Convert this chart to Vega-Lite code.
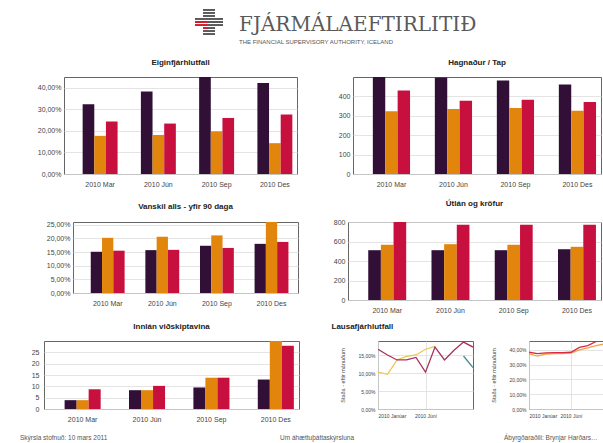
{
  "$schema": "https://vega.github.io/schema/vega-lite/v6.json",
  "padding": 0,
  "spacing": 0,
  "datasets": {
    "merki": [
      {"row": 0, "col": 2, "tone": "grár"}, {"row": 0, "col": 3, "tone": "grár"}, {"row": 0, "col": 4, "tone": "grár"},
      {"row": 1, "col": 2, "tone": "grár"}, {"row": 1, "col": 3, "tone": "grár"}, {"row": 1, "col": 4, "tone": "grár"},
      {"row": 2, "col": 2, "tone": "grár"}, {"row": 2, "col": 3, "tone": "grár"}, {"row": 2, "col": 4, "tone": "grár"},
      {"row": 3, "col": 0, "tone": "grár"}, {"row": 3, "col": 1, "tone": "grár"}, {"row": 3, "col": 2, "tone": "grár"}, {"row": 3, "col": 3, "tone": "grár"}, {"row": 3, "col": 4, "tone": "grár"}, {"row": 3, "col": 5, "tone": "grár"}, {"row": 3, "col": 6, "tone": "grár"},
      {"row": 4, "col": 0, "tone": "rauður"}, {"row": 4, "col": 1, "tone": "rauður"}, {"row": 4, "col": 2, "tone": "rauður"}, {"row": 4, "col": 3, "tone": "grár"}, {"row": 4, "col": 4, "tone": "grár"}, {"row": 4, "col": 5, "tone": "grár"}, {"row": 4, "col": 6, "tone": "grár"},
      {"row": 5, "col": 0, "tone": "rauður"}, {"row": 5, "col": 1, "tone": "rauður"}, {"row": 5, "col": 2, "tone": "rauður"}, {"row": 5, "col": 3, "tone": "grár"}, {"row": 5, "col": 4, "tone": "grár"}, {"row": 5, "col": 5, "tone": "grár"}, {"row": 5, "col": 6, "tone": "grár"},
      {"row": 6, "col": 2, "tone": "rauður"}, {"row": 6, "col": 3, "tone": "grár"}, {"row": 6, "col": 4, "tone": "grár"},
      {"row": 7, "col": 2, "tone": "grár"}, {"row": 7, "col": 3, "tone": "grár"}, {"row": 7, "col": 4, "tone": "grár"},
      {"row": 8, "col": 2, "tone": "grár"}, {"row": 8, "col": 3, "tone": "grár"}, {"row": 8, "col": 4, "tone": "grár"}
    ],
    "stolpar": [
      {"panel": "E", "period": "2010 Mar", "series": "Banki A", "value": 0.324},
      {"panel": "E", "period": "2010 Mar", "series": "Banki B", "value": 0.177},
      {"panel": "E", "period": "2010 Mar", "series": "Banki C", "value": 0.243},
      {"panel": "E", "period": "2010 Jún", "series": "Banki A", "value": 0.383},
      {"panel": "E", "period": "2010 Jún", "series": "Banki B", "value": 0.181},
      {"panel": "E", "period": "2010 Jún", "series": "Banki C", "value": 0.234},
      {"panel": "E", "period": "2010 Sep", "series": "Banki A", "value": 0.47},
      {"panel": "E", "period": "2010 Sep", "series": "Banki B", "value": 0.198},
      {"panel": "E", "period": "2010 Sep", "series": "Banki C", "value": 0.26},
      {"panel": "E", "period": "2010 Des", "series": "Banki A", "value": 0.422},
      {"panel": "E", "period": "2010 Des", "series": "Banki B", "value": 0.143},
      {"panel": "E", "period": "2010 Des", "series": "Banki C", "value": 0.276},
      {"panel": "H", "period": "2010 Mar", "series": "Banki A", "value": 520},
      {"panel": "H", "period": "2010 Mar", "series": "Banki B", "value": 323},
      {"panel": "H", "period": "2010 Mar", "series": "Banki C", "value": 431},
      {"panel": "H", "period": "2010 Jún", "series": "Banki A", "value": 497},
      {"panel": "H", "period": "2010 Jún", "series": "Banki B", "value": 335},
      {"panel": "H", "period": "2010 Jún", "series": "Banki C", "value": 378},
      {"panel": "H", "period": "2010 Sep", "series": "Banki A", "value": 482},
      {"panel": "H", "period": "2010 Sep", "series": "Banki B", "value": 340},
      {"panel": "H", "period": "2010 Sep", "series": "Banki C", "value": 383},
      {"panel": "H", "period": "2010 Des", "series": "Banki A", "value": 461},
      {"panel": "H", "period": "2010 Des", "series": "Banki B", "value": 326},
      {"panel": "H", "period": "2010 Des", "series": "Banki C", "value": 371},
      {"panel": "V", "period": "2010 Mar", "series": "Banki A", "value": 0.151},
      {"panel": "V", "period": "2010 Mar", "series": "Banki B", "value": 0.202},
      {"panel": "V", "period": "2010 Mar", "series": "Banki C", "value": 0.155},
      {"panel": "V", "period": "2010 Jún", "series": "Banki A", "value": 0.157},
      {"panel": "V", "period": "2010 Jún", "series": "Banki B", "value": 0.206},
      {"panel": "V", "period": "2010 Jún", "series": "Banki C", "value": 0.158},
      {"panel": "V", "period": "2010 Sep", "series": "Banki A", "value": 0.173},
      {"panel": "V", "period": "2010 Sep", "series": "Banki B", "value": 0.211},
      {"panel": "V", "period": "2010 Sep", "series": "Banki C", "value": 0.165},
      {"panel": "V", "period": "2010 Des", "series": "Banki A", "value": 0.18},
      {"panel": "V", "period": "2010 Des", "series": "Banki B", "value": 0.27},
      {"panel": "V", "period": "2010 Des", "series": "Banki C", "value": 0.187},
      {"panel": "U", "period": "2010 Mar", "series": "Banki A", "value": 514},
      {"panel": "U", "period": "2010 Mar", "series": "Banki B", "value": 570},
      {"panel": "U", "period": "2010 Mar", "series": "Banki C", "value": 820},
      {"panel": "U", "period": "2010 Jún", "series": "Banki A", "value": 514},
      {"panel": "U", "period": "2010 Jún", "series": "Banki B", "value": 576},
      {"panel": "U", "period": "2010 Jún", "series": "Banki C", "value": 777},
      {"panel": "U", "period": "2010 Sep", "series": "Banki A", "value": 514},
      {"panel": "U", "period": "2010 Sep", "series": "Banki B", "value": 570},
      {"panel": "U", "period": "2010 Sep", "series": "Banki C", "value": 777},
      {"panel": "U", "period": "2010 Des", "series": "Banki A", "value": 524},
      {"panel": "U", "period": "2010 Des", "series": "Banki B", "value": 549},
      {"panel": "U", "period": "2010 Des", "series": "Banki C", "value": 777},
      {"panel": "I", "period": "2010 Mar", "series": "Banki A", "value": 3.9},
      {"panel": "I", "period": "2010 Mar", "series": "Banki B", "value": 3.9},
      {"panel": "I", "period": "2010 Mar", "series": "Banki C", "value": 8.7},
      {"panel": "I", "period": "2010 Jún", "series": "Banki A", "value": 8.3},
      {"panel": "I", "period": "2010 Jún", "series": "Banki B", "value": 8.3},
      {"panel": "I", "period": "2010 Jún", "series": "Banki C", "value": 10.2},
      {"panel": "I", "period": "2010 Sep", "series": "Banki A", "value": 9.5},
      {"panel": "I", "period": "2010 Sep", "series": "Banki B", "value": 13.8},
      {"panel": "I", "period": "2010 Sep", "series": "Banki C", "value": 13.8},
      {"panel": "I", "period": "2010 Des", "series": "Banki A", "value": 13.0},
      {"panel": "I", "period": "2010 Des", "series": "Banki B", "value": 31.0},
      {"panel": "I", "period": "2010 Des", "series": "Banki C", "value": 27.9}
    ],
    "linur": [
      {"chart": 1, "month": "2010 Janúar", "series": "Gult", "value": 0.103},
      {"chart": 1, "month": "2010 Febrúar", "series": "Gult", "value": 0.097},
      {"chart": 1, "month": "2010 Mars", "series": "Gult", "value": 0.137},
      {"chart": 1, "month": "2010 Apríl", "series": "Gult", "value": 0.147},
      {"chart": 1, "month": "2010 Maí", "series": "Gult", "value": 0.151},
      {"chart": 1, "month": "2010 Júní", "series": "Gult", "value": 0.167},
      {"chart": 1, "month": "2010 Júlí", "series": "Gult", "value": 0.175},
      {"chart": 1, "month": "2010 Janúar", "series": "Rautt", "value": 0.167},
      {"chart": 1, "month": "2010 Febrúar", "series": "Rautt", "value": 0.151},
      {"chart": 1, "month": "2010 Mars", "series": "Rautt", "value": 0.137},
      {"chart": 1, "month": "2010 Apríl", "series": "Rautt", "value": 0.137},
      {"chart": 1, "month": "2010 Maí", "series": "Rautt", "value": 0.144},
      {"chart": 1, "month": "2010 Júní", "series": "Rautt", "value": 0.103},
      {"chart": 1, "month": "2010 Júlí", "series": "Rautt", "value": 0.173},
      {"chart": 1, "month": "2010 Ágúst", "series": "Rautt", "value": 0.137},
      {"chart": 1, "month": "2010 September", "series": "Rautt", "value": 0.164},
      {"chart": 1, "month": "2010 Október", "series": "Rautt", "value": 0.187},
      {"chart": 1, "month": "2010 Nóvember", "series": "Rautt", "value": 0.173},
      {"chart": 1, "month": "2010 Október", "series": "Grænt", "value": 0.148},
      {"chart": 1, "month": "2010 Nóvember", "series": "Grænt", "value": 0.116},
      {"chart": 2, "month": "2010 Janúar", "series": "Gult", "value": 0.373},
      {"chart": 2, "month": "2010 Febrúar", "series": "Gult", "value": 0.358},
      {"chart": 2, "month": "2010 Mars", "series": "Gult", "value": 0.372},
      {"chart": 2, "month": "2010 Apríl", "series": "Gult", "value": 0.375},
      {"chart": 2, "month": "2010 Maí", "series": "Gult", "value": 0.375},
      {"chart": 2, "month": "2010 Júní", "series": "Gult", "value": 0.378},
      {"chart": 2, "month": "2010 Júlí", "series": "Gult", "value": 0.4},
      {"chart": 2, "month": "2010 Ágúst", "series": "Gult", "value": 0.413},
      {"chart": 2, "month": "2010 September", "series": "Gult", "value": 0.429},
      {"chart": 2, "month": "2010 Október", "series": "Gult", "value": 0.44},
      {"chart": 2, "month": "2010 Nóvember", "series": "Gult", "value": 0.44},
      {"chart": 2, "month": "2010 Janúar", "series": "Rautt", "value": 0.384},
      {"chart": 2, "month": "2010 Febrúar", "series": "Rautt", "value": 0.375},
      {"chart": 2, "month": "2010 Mars", "series": "Rautt", "value": 0.38},
      {"chart": 2, "month": "2010 Apríl", "series": "Rautt", "value": 0.382},
      {"chart": 2, "month": "2010 Maí", "series": "Rautt", "value": 0.382},
      {"chart": 2, "month": "2010 Júní", "series": "Rautt", "value": 0.384},
      {"chart": 2, "month": "2010 Júlí", "series": "Rautt", "value": 0.417},
      {"chart": 2, "month": "2010 Ágúst", "series": "Rautt", "value": 0.429},
      {"chart": 2, "month": "2010 September", "series": "Rautt", "value": 0.457},
      {"chart": 2, "month": "2010 Október", "series": "Rautt", "value": 0.47},
      {"chart": 2, "month": "2010 Nóvember", "series": "Rautt", "value": 0.47},
      {"chart": 2, "month": "2010 Október", "series": "Grænt", "value": 0.31},
      {"chart": 2, "month": "2010 Nóvember", "series": "Grænt", "value": 0.28}
    ]
  },
  "vconcat": [
    {
      "width": 603,
      "height": 58,
      "view": {"stroke": null},
      "data": {"name": "merki"},
      "mark": {"type": "rect"},
      "encoding": {
        "x": {"field": "col", "type": "ordinal", "axis": null, "scale": {"range": [195, 223], "paddingInner": 0, "paddingOuter": 0}},
        "y": {"field": "row", "type": "ordinal", "axis": null, "scale": {"range": [9, 35], "paddingInner": 0.35, "paddingOuter": 0}},
        "color": {"field": "tone", "type": "nominal", "legend": null, "scale": {"domain": ["grár", "rauður"], "range": ["#5a5a5a", "#d02030"]}}
      },
      "title": {
        "text": "FJÁRMÁLAEFTIRLITIÐ",
        "subtitle": "THE FINANCIAL SUPERVISORY AUTHORITY, ICELAND",
        "orient": "bottom",
        "anchor": "start",
        "frame": "group",
        "align": "left",
        "dx": 239,
        "offset": -43,
        "font": "DejaVu Serif",
        "fontSize": 20,
        "fontWeight": "normal",
        "color": "#5a5a5a",
        "subtitleFont": "Liberation Sans",
        "subtitleFontSize": 6,
        "subtitleColor": "#555555",
        "subtitlePadding": 4
      }
    },
    {
      "spacing": 0,
      "hconcat": [
        {"width": 1, "height": 1, "view": {"stroke": null}, "data": {"values": []}, "mark": "point"},
        {
          "spacing": 20,
          "resolve": {"scale": {"x": "independent", "y": "independent", "xOffset": "independent"}},
          "hconcat": [
            {
              "title": "Eiginfjárhlutfall",
              "width": 233,
              "height": 97,
              "data": {"name": "stolpar"},
              "transform": [{"filter": "datum.panel === 'E'"}],
              "mark": {"type": "bar", "clip": true},
              "encoding": {
                "x": {"field": "period", "type": "nominal", "sort": ["2010 Mar", "2010 Jún", "2010 Sep", "2010 Des"], "title": null, "scale": {"paddingInner": 0.4, "paddingOuter": 0.2, "align": 0.8}, "axis": {"labelAngle": 0, "minExtent": 24, "maxExtent": 24}},
                "xOffset": {"field": "series", "type": "nominal", "sort": ["Banki A", "Banki B", "Banki C"]},
                "y": {"field": "value", "type": "quantitative", "title": null, "scale": {"domain": [0, 0.45], "nice": false}, "axis": {"format": ".2%", "values": [0, 0.1, 0.2, 0.3, 0.4], "minExtent": 62, "maxExtent": 62}},
                "color": {"field": "series", "type": "nominal", "legend": null, "scale": {"domain": ["Banki A", "Banki B", "Banki C"], "range": ["#320f37", "#e1850c", "#c8103f"]}}
              }
            },
            {
              "title": "Hagnaður / Tap",
              "width": 248,
              "height": 97,
              "data": {"name": "stolpar"},
              "transform": [{"filter": "datum.panel === 'H'"}],
              "mark": {"type": "bar", "clip": true},
              "encoding": {
                "x": {"field": "period", "type": "nominal", "sort": ["2010 Mar", "2010 Jún", "2010 Sep", "2010 Des"], "title": null, "scale": {"paddingInner": 0.4, "paddingOuter": 0.2, "align": 0.8}, "axis": {"labelAngle": 0, "minExtent": 24, "maxExtent": 24}},
                "xOffset": {"field": "series", "type": "nominal", "sort": ["Banki A", "Banki B", "Banki C"]},
                "y": {"field": "value", "type": "quantitative", "title": null, "scale": {"domain": [0, 500], "nice": false}, "axis": {"format": "d", "values": [0, 100, 200, 300, 400], "minExtent": 34, "maxExtent": 34}},
                "color": {"field": "series", "type": "nominal", "legend": null, "scale": {"domain": ["Banki A", "Banki B", "Banki C"], "range": ["#320f37", "#e1850c", "#c8103f"]}}
              }
            }
          ]
        }
      ]
    },
    {
      "spacing": 0,
      "hconcat": [
        {"width": 1, "height": 1, "view": {"stroke": null}, "data": {"values": []}, "mark": "point"},
        {
          "spacing": 14,
          "resolve": {"scale": {"x": "independent", "y": "independent", "xOffset": "independent"}},
          "hconcat": [
            {
              "title": "Vanskil alls - yfir 90 daga",
              "width": 225,
              "height": 71,
              "data": {"name": "stolpar"},
              "transform": [{"filter": "datum.panel === 'V'"}],
              "mark": {"type": "bar", "clip": true},
              "encoding": {
                "x": {"field": "period", "type": "nominal", "sort": ["2010 Mar", "2010 Jún", "2010 Sep", "2010 Des"], "title": null, "scale": {"paddingInner": 0.38, "paddingOuter": 0.25, "align": 0.65}, "axis": {"labelAngle": 0, "minExtent": 21, "maxExtent": 21}},
                "xOffset": {"field": "series", "type": "nominal", "sort": ["Banki A", "Banki B", "Banki C"]},
                "y": {"field": "value", "type": "quantitative", "title": null, "scale": {"domain": [0, 0.26], "nice": false}, "axis": {"format": ".2%", "values": [0, 0.05, 0.1, 0.15, 0.2, 0.25], "minExtent": 71, "maxExtent": 71}},
                "color": {"field": "series", "type": "nominal", "legend": null, "scale": {"domain": ["Banki A", "Banki B", "Banki C"], "range": ["#320f37", "#e1850c", "#c8103f"]}}
              }
            },
            {
              "title": "Útlán og kröfur",
              "width": 253,
              "height": 78,
              "data": {"name": "stolpar"},
              "transform": [{"filter": "datum.panel === 'U'"}],
              "mark": {"type": "bar", "clip": true},
              "encoding": {
                "x": {"field": "period", "type": "nominal", "sort": ["2010 Mar", "2010 Jún", "2010 Sep", "2010 Des"], "title": null, "scale": {"paddingInner": 0.4, "paddingOuter": 0.2, "align": 0.8}, "axis": {"labelAngle": 0, "minExtent": 21, "maxExtent": 21}},
                "xOffset": {"field": "series", "type": "nominal", "sort": ["Banki A", "Banki B", "Banki C"]},
                "y": {"field": "value", "type": "quantitative", "title": null, "scale": {"domain": [0, 805], "nice": false}, "axis": {"format": "d", "values": [0, 200, 400, 600, 800], "minExtent": 34, "maxExtent": 34}},
                "color": {"field": "series", "type": "nominal", "legend": null, "scale": {"domain": ["Banki A", "Banki B", "Banki C"], "range": ["#320f37", "#e1850c", "#c8103f"]}}
              }
            }
          ]
        }
      ]
    },
    {
      "spacing": 0,
      "hconcat": [
        {"width": 1, "height": 1, "view": {"stroke": null}, "data": {"values": []}, "mark": "point"},
        {
          "spacing": 31,
          "resolve": {"scale": {"x": "independent", "y": "independent", "xOffset": "independent", "color": "independent"}},
          "hconcat": [
            {
              "title": "Innlán viðskiptavina",
              "width": 255,
              "height": 68,
              "data": {"name": "stolpar"},
              "transform": [{"filter": "datum.panel === 'I'"}],
              "mark": {"type": "bar", "clip": true},
              "encoding": {
                "x": {"field": "period", "type": "nominal", "sort": ["2010 Mar", "2010 Jún", "2010 Sep", "2010 Des"], "title": null, "scale": {"paddingInner": 0.44, "paddingOuter": 0.2, "align": 0.8}, "axis": {"labelAngle": 0, "minExtent": 24, "maxExtent": 24}},
                "xOffset": {"field": "series", "type": "nominal", "sort": ["Banki A", "Banki B", "Banki C"]},
                "y": {"field": "value", "type": "quantitative", "title": null, "scale": {"domain": [0, 30], "nice": false}, "axis": {"format": "d", "values": [0, 5, 10, 15, 20, 25], "minExtent": 42, "maxExtent": 42, "labelPadding": 5}},
                "color": {"field": "series", "type": "nominal", "legend": null, "scale": {"domain": ["Banki A", "Banki B", "Banki C"], "range": ["#320f37", "#e1850c", "#c8103f"]}}
              }
            },
            {
              "title": {"text": "Lausafjárhlutfall", "dx": -8},
              "spacing": 16,
              "resolve": {"scale": {"x": "independent", "y": "independent", "color": "independent"}},
              "hconcat": [
                {
                  "width": 95,
                  "height": 68,
                  "data": {"name": "linur"},
                  "transform": [{"filter": "datum.chart === 1"}],
                  "mark": {"type": "line", "clip": true, "strokeWidth": 1.3},
                  "encoding": {
                    "x": {"field": "month", "type": "ordinal", "sort": ["2010 Janúar", "2010 Febrúar", "2010 Mars", "2010 Apríl", "2010 Maí", "2010 Júní", "2010 Júlí", "2010 Ágúst", "2010 September", "2010 Október", "2010 Nóvember"], "title": null, "scale": {"type": "point", "padding": 0}, "axis": {"values": ["2010 Janúar", "2010 Júní"], "grid": true, "labelAngle": 0, "labelFontSize": 5, "labelPadding": 4, "labelAlign": {"condition": {"test": "datum.value === '2010 Janúar'", "value": "left"}, "value": "center"}, "minExtent": 24, "maxExtent": 24}},
                    "y": {"field": "value", "type": "quantitative", "scale": {"domain": [0, 0.19], "nice": false}, "axis": {"title": "Staða - eftir mánuðum", "format": ".2%", "values": [0, 0.05, 0.1, 0.15], "labelFontSize": 5, "minExtent": 27, "maxExtent": 27, "titlePadding": 6}},
                    "color": {"field": "series", "type": "nominal", "legend": null, "scale": {"domain": ["Gult", "Rautt", "Grænt"], "range": ["#f0c64e", "#a8305e", "#4f8a8a"]}}
                  }
                },
                {
                  "width": 84,
                  "height": 68,
                  "data": {"name": "linur"},
                  "transform": [{"filter": "datum.chart === 2"}],
                  "mark": {"type": "line", "clip": true, "strokeWidth": 1.3},
                  "encoding": {
                    "x": {"field": "month", "type": "ordinal", "sort": ["2010 Janúar", "2010 Febrúar", "2010 Mars", "2010 Apríl", "2010 Maí", "2010 Júní", "2010 Júlí", "2010 Ágúst", "2010 September", "2010 Október", "2010 Nóvember"], "title": null, "scale": {"type": "point", "padding": 0}, "axis": {"values": ["2010 Janúar", "2010 Júní"], "grid": true, "labelAngle": 0, "labelFontSize": 5, "labelPadding": 4, "labelAlign": {"condition": {"test": "datum.value === '2010 Janúar'", "value": "left"}, "value": "center"}, "minExtent": 24, "maxExtent": 24}},
                    "y": {"field": "value", "type": "quantitative", "scale": {"domain": [0, 0.46], "nice": false}, "axis": {"title": "Staða - eftir mánuðum", "format": ".2%", "values": [0, 0.1, 0.2, 0.3, 0.4], "labelFontSize": 5, "minExtent": 27, "maxExtent": 27, "titlePadding": 6}},
                    "color": {"field": "series", "type": "nominal", "legend": null, "scale": {"domain": ["Gult", "Rautt", "Grænt"], "range": ["#f2a24a", "#d82a40", "#4f7070"]}}
                  }
                }
              ]
            }
          ]
        }
      ]
    },
    {
      "spacing": 5,
      "hconcat": [
        {
          "width": 233, "height": 1,
          "view": {"stroke": null},
          "data": {"values": []},
          "mark": "point",
          "title": {"text": "Skýrsla stofnuð: 10 mars 2011", "orient": "top", "anchor": "start", "frame": "group", "dx": 20, "offset": 0, "fontSize": 6.5, "fontWeight": "normal", "color": "#555555"}
        },
        {
          "width": 235, "height": 1,
          "view": {"stroke": null},
          "data": {"values": []},
          "mark": "point",
          "title": {"text": "Um áhættuþáttaskýrsluna", "orient": "top", "anchor": "start", "frame": "group", "dx": 42, "offset": 0, "fontSize": 6.5, "fontWeight": "normal", "color": "#555555"}
        },
        {
          "width": 120, "height": 1,
          "view": {"stroke": null},
          "data": {"values": []},
          "mark": "point",
          "title": {"text": "Ábyrgðaraðili: Brynjar Harðarson", "orient": "top", "anchor": "start", "frame": "group", "dx": 26, "offset": 0, "fontSize": 6.5, "fontWeight": "normal", "color": "#555555", "limit": 94}
        }
      ]
    }
  ],
  "resolve": {"scale": {"x": "independent", "y": "independent", "color": "independent"}},
  "config": {
    "font": "Liberation Sans",
    "background": "white",
    "view": {"stroke": "#666666", "strokeWidth": 1},
    "axis": {"labelFontSize": 7, "labelColor": "#444444", "domain": false, "ticks": false, "gridColor": "#dddddd", "gridWidth": 0.8, "labelPadding": 3, "titleFontSize": 5.5, "titleFontWeight": "normal", "titleColor": "#444444"},
    "axisX": {"grid": false, "labelPadding": 6, "labelFontSize": 7},
    "title": {"fontSize": 8, "fontWeight": "bold", "color": "#222222", "offset": 10},
    "locale": {"number": {"decimal": ",", "thousands": ".", "grouping": [3], "currency": ["", " kr."]}}
  }
}
